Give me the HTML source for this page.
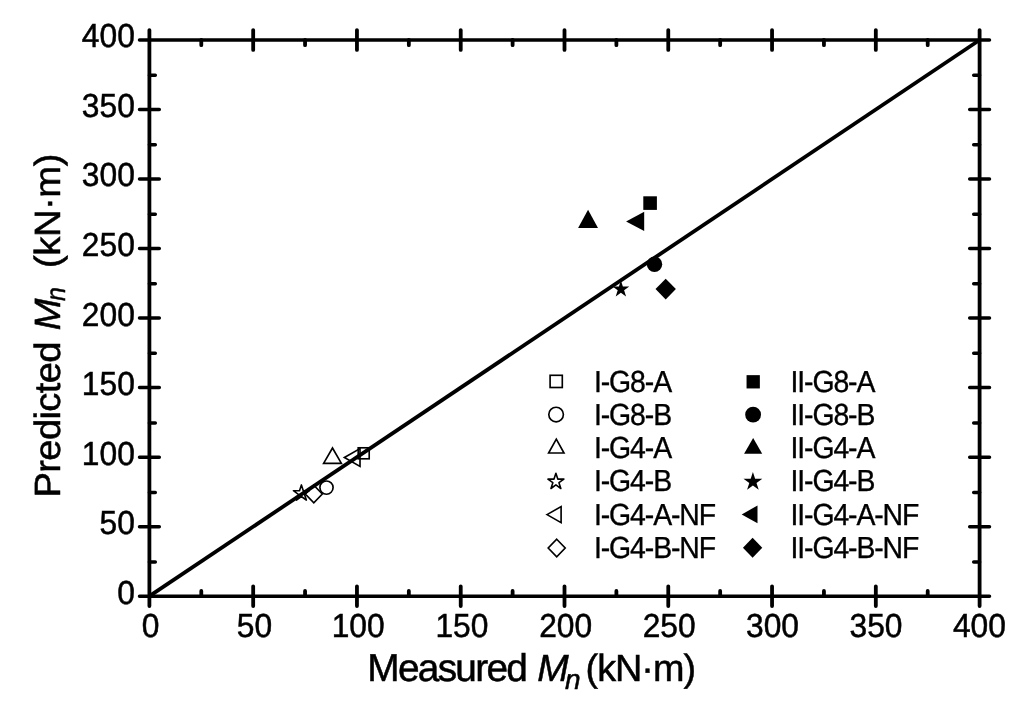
<!DOCTYPE html>
<html lang="en"><head><meta charset="utf-8"><title>Predicted vs Measured Mn</title>
<style>html,body{margin:0;padding:0;background:#fff}svg{display:block}</style></head>
<body>
<svg width="1024" height="718" viewBox="0 0 1024 718" text-rendering="geometricPrecision">
<rect width="1024" height="718" fill="#fff"/>
<line x1="149.4" y1="596.2" x2="979.6" y2="40.0" stroke="#000" stroke-width="3.8"/>
<g stroke="#000" stroke-linecap="round" fill="none">
<path stroke-width="3.5" d="M139.5 40.0 H989.5 M139.5 596.2 H989.5"/>
<path stroke-width="3.8" d="M149.4 30.1 V606.1 M979.6 30.1 V606.1"/>
<path stroke-width="3.8" d="M253.18 586.3000000000001 V606.1 M253.18 30.1 V49.9 M356.95 586.3000000000001 V606.1 M356.95 30.1 V49.9 M460.73 586.3000000000001 V606.1 M460.73 30.1 V49.9 M564.50 586.3000000000001 V606.1 M564.50 30.1 V49.9 M668.27 586.3000000000001 V606.1 M668.27 30.1 V49.9 M772.05 586.3000000000001 V606.1 M772.05 30.1 V49.9 M875.82 586.3000000000001 V606.1 M875.82 30.1 V49.9 M201.29 596.2 V591.0 M201.29 40.0 V45.2 M305.06 596.2 V591.0 M305.06 40.0 V45.2 M408.84 596.2 V591.0 M408.84 40.0 V45.2 M512.61 596.2 V591.0 M512.61 40.0 V45.2 M616.39 596.2 V591.0 M616.39 40.0 V45.2 M720.16 596.2 V591.0 M720.16 40.0 V45.2 M823.94 596.2 V591.0 M823.94 40.0 V45.2 M927.71 596.2 V591.0 M927.71 40.0 V45.2"/>
<path stroke-width="3.5" d="M139.5 526.68 H159.3 M969.7 526.68 H989.5 M139.5 457.15 H159.3 M969.7 457.15 H989.5 M139.5 387.62 H159.3 M969.7 387.62 H989.5 M139.5 318.10 H159.3 M969.7 318.10 H989.5 M139.5 248.58 H159.3 M969.7 248.58 H989.5 M139.5 179.05 H159.3 M969.7 179.05 H989.5 M139.5 109.53 H159.3 M969.7 109.53 H989.5 M149.4 561.94 H155.29999999999998 M979.6 561.94 H973.6999999999999 M149.4 492.41 H155.29999999999998 M979.6 492.41 H973.6999999999999 M149.4 422.89 H155.29999999999998 M979.6 422.89 H973.6999999999999 M149.4 353.36 H155.29999999999998 M979.6 353.36 H973.6999999999999 M149.4 283.84 H155.29999999999998 M979.6 283.84 H973.6999999999999 M149.4 214.31 H155.29999999999998 M979.6 214.31 H973.6999999999999 M149.4 144.79 H155.29999999999998 M979.6 144.79 H973.6999999999999 M149.4 75.26 H155.29999999999998 M979.6 75.26 H973.6999999999999"/>
</g>
<g font-family="'Liberation Sans', Arial, sans-serif" font-size="33.3" fill="#000" stroke="#000" stroke-width="0.5">
<text transform="translate(134.8 603.60) scale(0.953 1)" text-anchor="end">0</text>
<text transform="translate(134.8 534.08) scale(0.953 1)" text-anchor="end">50</text>
<text transform="translate(134.8 464.55) scale(0.953 1)" text-anchor="end">100</text>
<text transform="translate(134.8 395.02) scale(0.953 1)" text-anchor="end">150</text>
<text transform="translate(134.8 325.50) scale(0.953 1)" text-anchor="end">200</text>
<text transform="translate(134.8 255.98) scale(0.953 1)" text-anchor="end">250</text>
<text transform="translate(134.8 186.45) scale(0.953 1)" text-anchor="end">300</text>
<text transform="translate(134.8 116.93) scale(0.953 1)" text-anchor="end">350</text>
<text transform="translate(134.8 47.40) scale(0.953 1)" text-anchor="end">400</text>
<text transform="translate(150.60 637.4) scale(0.953 1)" text-anchor="middle">0</text>
<text transform="translate(254.38 637.4) scale(0.953 1)" text-anchor="middle">50</text>
<text transform="translate(358.15 637.4) scale(0.953 1)" text-anchor="middle">100</text>
<text transform="translate(461.93 637.4) scale(0.953 1)" text-anchor="middle">150</text>
<text transform="translate(565.70 637.4) scale(0.953 1)" text-anchor="middle">200</text>
<text transform="translate(669.12 637.4) scale(0.953 1)" text-anchor="middle">250</text>
<text transform="translate(772.55 637.4) scale(0.953 1)" text-anchor="middle">300</text>
<text transform="translate(875.98 637.4) scale(0.953 1)" text-anchor="middle">350</text>
<text transform="translate(979.40 637.4) scale(0.953 1)" text-anchor="middle">400</text>
</g>
<g font-family="'Liberation Sans', Arial, sans-serif" fill="#000" stroke="#000" stroke-width="0.5">
<text font-size="38.8" x="367.3" y="680.9" letter-spacing="-1.7">Measured</text>
<text font-size="37.8" x="537.2" y="680.8" font-style="italic">M</text>
<text font-size="28" x="565" y="688.5" font-style="italic">n</text>
<text font-size="37.8" x="585.6" y="680.8" letter-spacing="-1.0">(kN·m)</text>
<g transform="translate(60.2 0) rotate(-90) scale(1.045 1)">
<text font-size="36.5" x="-476.17" y="0" letter-spacing="-0.6">Predicted</text>
<text font-size="36.5" x="-315.98" y="0" font-style="italic">M</text>
<text font-size="27" transform="translate(-288.04 4.8) scale(0.88 1)" font-style="italic">n</text>
<text font-size="36.5" x="-256.46" y="0" letter-spacing="-0.4">(kN·m)</text>
</g></g>
<g stroke="#000" stroke-width="1.65" stroke-linejoin="miter">
<rect x="358.20" y="447.80" width="11" height="11" fill="none"/>
<circle cx="326.5" cy="487.6" r="6.6" fill="none"/>
<path d="M332.50 448.0 L341.4 463.3 L323.6 463.3 Z" fill="none"/>
<path stroke-linejoin="round" stroke-width="1.6" d="M301.40 484.90 L303.29 490.70 L309.39 490.70 L304.45 494.29 L306.34 500.10 L301.40 496.51 L296.46 500.10 L298.35 494.29 L293.41 490.70 L299.51 490.70 Z" fill="none"/>
<path d="M344.4 457.50 L360.0 448.6 L360.0 466.4 Z" fill="none"/>
<path d="M313.8 485.25 L322.3 494.0 L313.8 502.75 L305.3 494.0 Z" fill="none"/>
<rect x="550.10" y="375.30" width="12.2" height="12.2" fill="none"/>
<circle cx="556.1" cy="414.5" r="7.3" fill="none"/>
<path d="M556.30 439.2 L564.0 453.0 L548.6 453.0 Z" fill="none"/>
<path stroke-linejoin="round" stroke-width="1.6" d="M555.90 473.30 L557.79 479.10 L563.89 479.10 L558.95 482.69 L560.84 488.50 L555.90 484.91 L550.96 488.50 L552.85 482.69 L547.91 479.10 L554.01 479.10 Z" fill="none"/>
<path d="M547.0 514.60 L561.1 506.6 L561.1 522.6 Z" fill="none"/>
<path d="M556.7 539.2 L565.2 548.0 L556.7 556.8 L548.2 548.0 Z" fill="none"/>
</g>
<g stroke="none">
<rect x="643.30" y="196.30" width="13.6" height="13.6" fill="#000"/>
<circle cx="654.5" cy="264.2" r="7.7" fill="#000"/>
<path d="M588.05 209.8 L598.0 228.0 L578.1 228.0 Z" fill="#000"/>
<path d="M620.90 280.50 L622.88 286.58 L629.27 286.58 L624.10 290.34 L626.07 296.42 L620.90 292.66 L615.73 296.42 L617.70 290.34 L612.53 286.58 L618.92 286.58 Z" fill="#000"/>
<path d="M626.1 221.40 L644.2 211.7 L644.2 231.1 Z" fill="#000"/>
<path d="M665.7 278.70000000000005 L675.9000000000001 289.1 L665.7 299.5 L655.5 289.1 Z" fill="#000"/>
<rect x="746.55" y="375.15" width="13.3" height="13.3" fill="#000"/>
<circle cx="753.1" cy="414.7" r="7.9" fill="#000"/>
<path d="M753.15 438.1 L762.2 453.75 L744.1 453.75 Z" fill="#000"/>
<path d="M752.90 471.90 L755.12 478.74 L762.32 478.74 L756.50 482.97 L758.72 489.81 L752.90 485.58 L747.08 489.81 L749.30 482.97 L743.48 478.74 L750.68 478.74 Z" fill="#000"/>
<path d="M741.7 514.40 L757.5 505.5 L757.5 523.3 Z" fill="#000"/>
<path d="M752.6 537.75 L762.25 547.7 L752.6 557.6500000000001 L742.95 547.7 Z" fill="#000"/>
</g>
<g font-family="'Liberation Sans', Arial, sans-serif" font-size="30.4" letter-spacing="-1.19" fill="#000" stroke="#000" stroke-width="0.35" text-rendering="geometricPrecision">
<text transform="translate(594.0 391.80) scale(0.9345 1)">I-G8-A</text>
<text transform="translate(790.5 391.80) scale(0.9345 1)">II-G8-A</text>
<text transform="translate(594.0 425.00) scale(0.9345 1)">I-G8-B</text>
<text transform="translate(790.5 425.00) scale(0.9345 1)">II-G8-B</text>
<text transform="translate(594.0 458.20) scale(0.9345 1)">I-G4-A</text>
<text transform="translate(790.5 458.20) scale(0.9345 1)">II-G4-A</text>
<text transform="translate(594.0 491.40) scale(0.9345 1)">I-G4-B</text>
<text transform="translate(790.5 491.40) scale(0.9345 1)">II-G4-B</text>
<text transform="translate(594.0 524.60) scale(0.9345 1)">I-G4-A-NF</text>
<text transform="translate(790.5 524.60) scale(0.9345 1)">II-G4-A-NF</text>
<text transform="translate(594.0 557.80) scale(0.9345 1)">I-G4-B-NF</text>
<text transform="translate(790.5 557.80) scale(0.9345 1)">II-G4-B-NF</text>
</g>
</svg>
</body></html>
